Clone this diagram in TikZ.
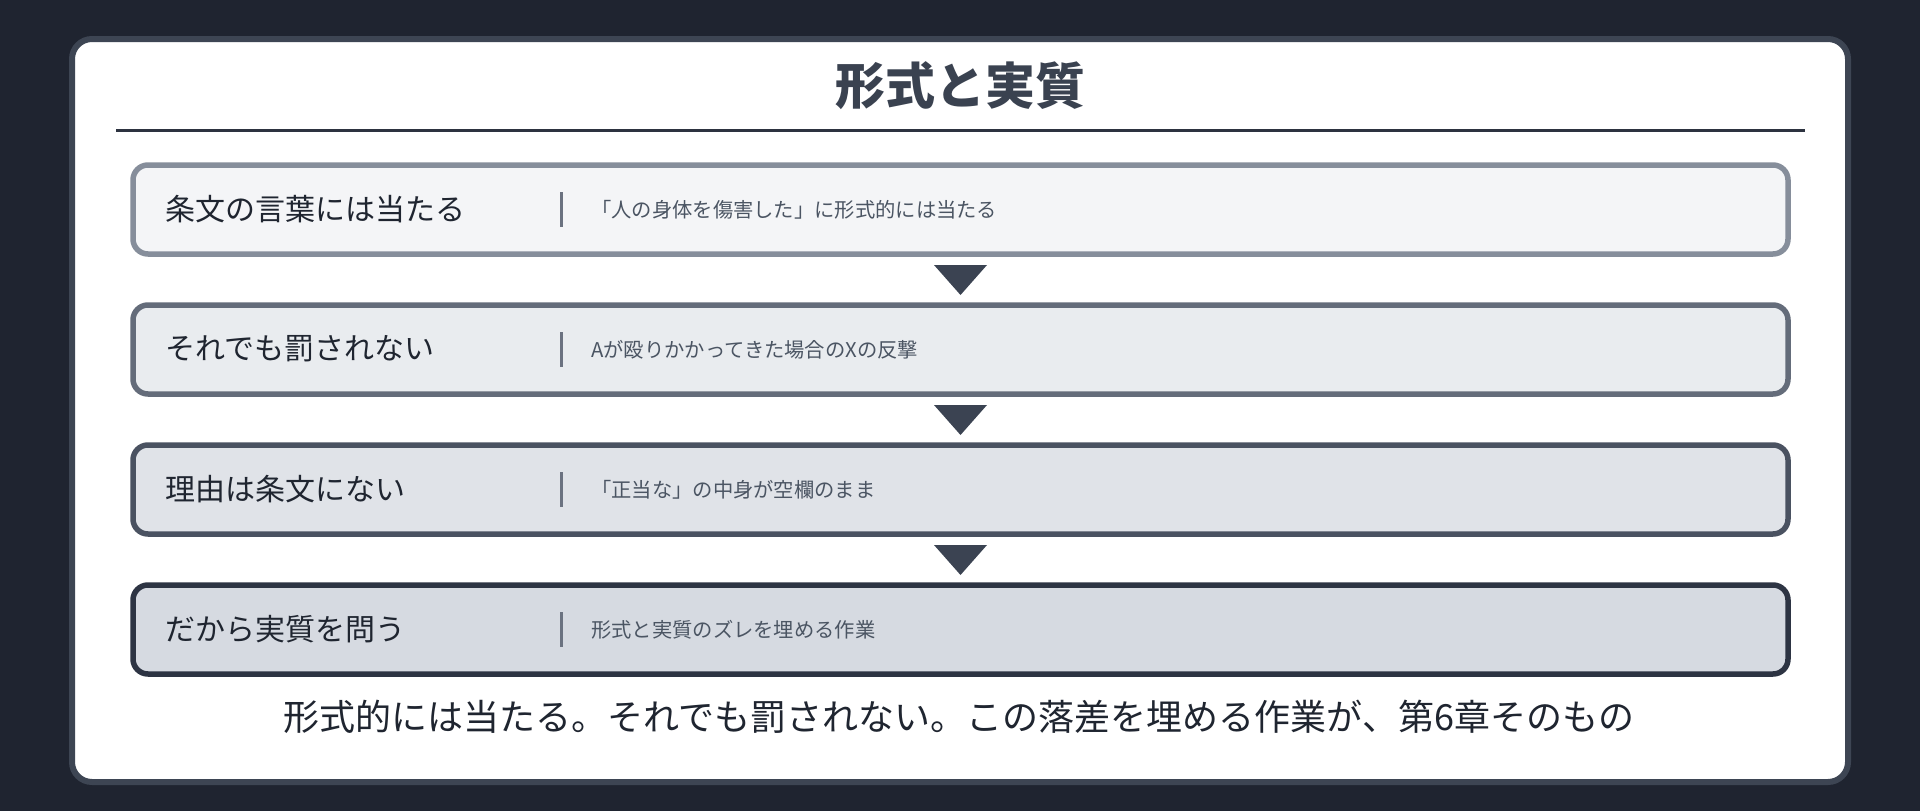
\documentclass[tikz,border=0pt]{standalone}
\usepackage{fontspec}
\setmainfont{Noto Sans CJK JP}
\definecolor{bgdark}{HTML}{1F2430}
\definecolor{cardedge}{HTML}{3D4553}
\definecolor{rulec}{HTML}{2D3340}
\definecolor{titlec}{HTML}{3A4250}
\definecolor{edgeA}{HTML}{868E9B}
\definecolor{fillA}{HTML}{F4F5F7}
\definecolor{edgeB}{HTML}{646C7A}
\definecolor{fillB}{HTML}{E9ECEF}
\definecolor{edgeC}{HTML}{4A5261}
\definecolor{fillC}{HTML}{E0E3E8}
\definecolor{edgeD}{HTML}{2D3443}
\definecolor{fillD}{HTML}{D6DAE1}
\definecolor{tri}{HTML}{3B4352}
\definecolor{maintext}{HTML}{1F2530}
\definecolor{desctext}{HTML}{4B5563}
\definecolor{divc}{HTML}{6B7280}
\begin{document}
\begin{tikzpicture}[x=1pt,y=-1pt,
  stepbox/.style={rounded corners=15pt, line width=5.5pt},
  lbl/.style={anchor=west, inner sep=0pt, text=maintext, font=\fontsize{30}{36}\selectfont},
  desc/.style={anchor=west, inner sep=0pt, text=desctext, font=\fontsize{20.3}{24}\selectfont},
  divider/.style={draw=divc, line width=3pt},
  downtri/.style={fill=tri, draw=none}]
\useasboundingbox (0,0) rectangle (1920,811);
\fill[bgdark] (0,0) rectangle (1920,811);
% card
\draw[cardedge, line width=6pt, fill=white, rounded corners=20pt] (72,39) rectangle (1848,782);
% title
\node[inner sep=0pt, text=titlec, font=\fontsize{50}{60}\selectfont\bfseries] (title) at (960,86) {形式と実質};
\draw[rulec, line width=3pt] (116,130) -- (1805,130);
% boxes
\draw[stepbox, draw=edgeA, fill=fillA] (133,165) rectangle (1788,254);
\draw[stepbox, draw=edgeB, fill=fillB] (133,305) rectangle (1788,394);
\draw[stepbox, draw=edgeC, fill=fillC] (133,445) rectangle (1788,534);
\draw[stepbox, draw=edgeD, fill=fillD] (133,585) rectangle (1788,674);
% labels
\node[lbl] (l1) at (165,209) {条文の言葉には当たる};
\node[lbl] (l2) at (165,349) {それでも罰されない};
\node[lbl] (l3) at (165,489) {理由は条文にない};
\node[lbl] (l4) at (165,629) {だから実質を問う};
% dividers
\draw[divider] (561,192) -- (561,227);
\draw[divider] (561,332) -- (561,367);
\draw[divider] (561,472) -- (561,507);
\draw[divider] (561,612) -- (561,647);
% descriptions
\node[desc] (d1) at (591,210) {「人の身体を傷害した」に形式的には当たる};
\node[desc] (d2) at (591,350) {Aが殴りかかってきた場合のXの反撃};
\node[desc] (d3) at (591,490) {「正当な」の中身が空欄のまま};
\node[desc] (d4) at (591,630) {形式と実質のズレを埋める作業};
% triangles
\fill[downtri] (934,265) -- (987,265) -- (960.5,295) -- cycle;
\fill[downtri] (934,405) -- (987,405) -- (960.5,435) -- cycle;
\fill[downtri] (934,545) -- (987,545) -- (960.5,575) -- cycle;
% bottom text
\node[inner sep=0pt, text=maintext, font=\fontsize{36}{42}\selectfont] (foot) at (959,717) {形式的には当たる。それでも罰されない。この落差を埋める作業が、第6章そのもの};
\end{tikzpicture}
\end{document}
